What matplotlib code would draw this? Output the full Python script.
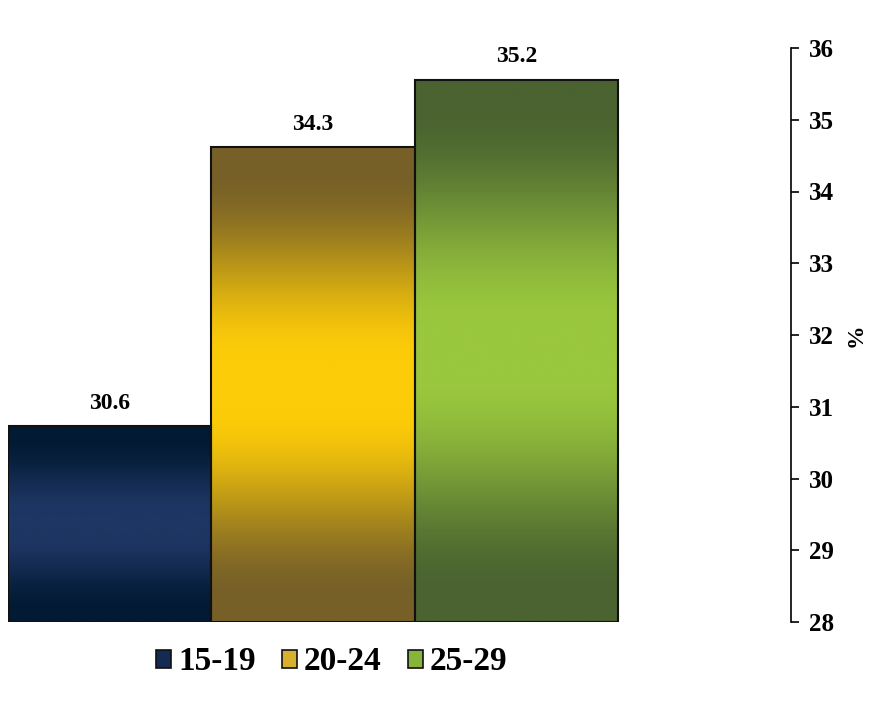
import numpy as np
import matplotlib
matplotlib.use("Agg")
import matplotlib.pyplot as plt
from matplotlib.patches import Rectangle
from matplotlib.colors import to_rgb

# Data
groups = ["15-19", "20-24", "25-29"]
values = [30.6, 34.3, 35.2]
axis_ticks = [28, 29, 30, 31, 32, 33, 34, 35, 36]
y_label = "%"

# Styling
edge_dark = ["#021a33", "#776028", "#4a6330"]
center_bright = ["#1e3663", "#fdcc08", "#99c73d"]
legend_fill = ["#142a52", "#d8b030", "#86b43c"]
base = 28

plt.rcParams["font.family"] = ["Liberation Serif", "DejaVu Serif"]
plt.rcParams["font.weight"] = "bold"

fig = plt.figure(figsize=(8.72, 7.03), dpi=100)
W, H = 872, 703
left, right_bar, right_axis = 8, 618, 791
top, bottom = 48, 622
ax = fig.add_axes([left / W, 1 - bottom / H, (right_axis - left) / W, (bottom - top) / H])

n = len(values)
x = np.arange(n)
x_max = -0.5 + n * (right_axis - left) / (right_bar - left)

def shade(c0, c1, steps=400):
    t = np.linspace(0, 1, steps)
    d = np.abs(t - 0.5) * 2
    m = np.clip((0.9 - d) / 0.8, 0, 1)
    m = m * m * (3 - 2 * m)
    a, b = np.array(to_rgb(c0)), np.array(to_rgb(c1))
    return a[None, :] * (1 - m[:, None]) + b[None, :] * m[:, None]

bars = ax.bar(x, [v - base for v in values], bottom=base, width=1.0,
              color="none", edgecolor="#111111", linewidth=1.5, zorder=3)
for i, (rect, v) in enumerate(zip(bars, values)):
    grad = shade(edge_dark[i], center_bright[i])[:, None, :]
    im = ax.imshow(grad, extent=[x[i] - 0.5, x[i] + 0.5, base, v], origin="lower",
                   aspect="auto", interpolation="bilinear", zorder=2)
    im.set_clip_path(rect)
    ax.annotate(f"{v:.1f}", (x[i], v), xytext=(0, 9), textcoords="offset points",
                ha="center", va="bottom", fontsize=17, fontweight="bold")

ax.set_xlim(-0.5, x_max)
ax.set_ylim(base, 35.62)
ax.axis("off")

# Percentage scale on the right
ax2 = ax.twinx()
ax2.set_ylim(axis_ticks[0], axis_ticks[-1])
ax2.set_yticks(axis_ticks)
ax2.set_yticklabels([str(t) for t in axis_ticks])
for s in ["left", "top", "bottom"]:
    ax2.spines[s].set_visible(False)
ax2.spines["right"].set_linewidth(1.2)
ax2.tick_params(axis="y", direction="out", length=6, width=1.2, pad=7, labelsize=18)
ax2.set_xticks([])
ax2.set_ylabel(y_label, fontsize=17, fontweight="bold", labelpad=8)
ax2.patch.set_visible(False)

# Legend
handles = [Rectangle((0, 0), 1, 1, facecolor=legend_fill[i], edgecolor="#111111", linewidth=1.2)
           for i in range(n)]
fig.legend(handles, groups, loc="center", bbox_to_anchor=(332 / W, 1 - 662 / H),
           ncol=n, frameon=False, handlelength=0.45, handleheight=0.45,
           handletextpad=0.2, columnspacing=0.8, prop={"weight": "bold", "size": 24})

fig.savefig("out.png", dpi=100)
